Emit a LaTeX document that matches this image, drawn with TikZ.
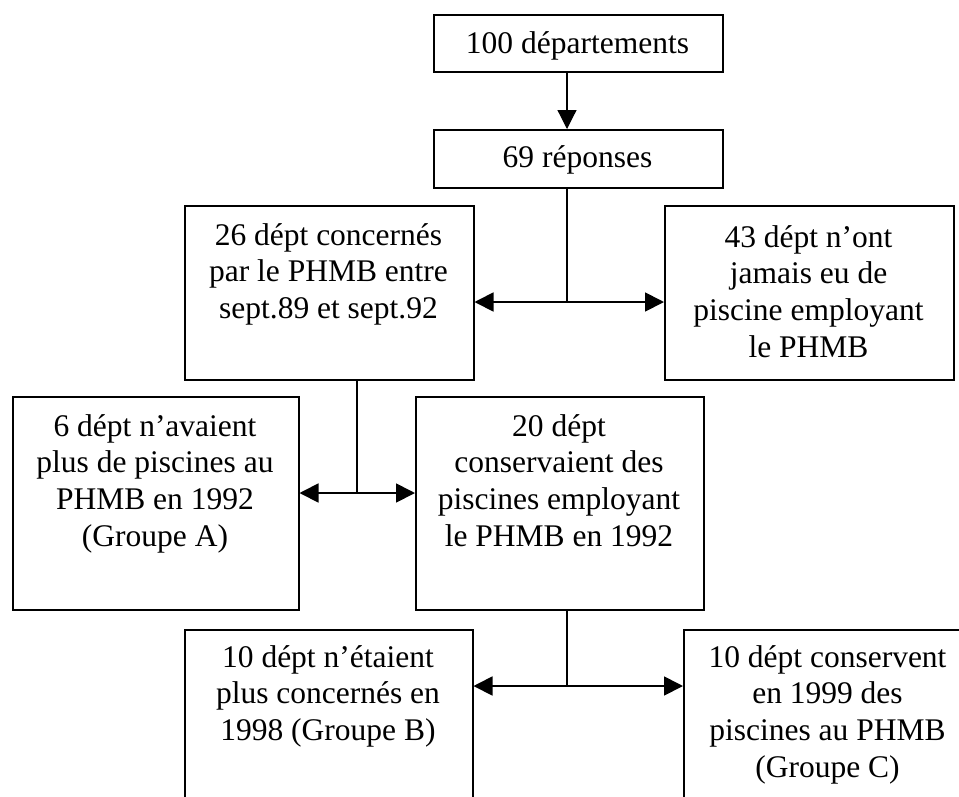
\documentclass[tikz,border=0pt]{standalone}
\usepackage{fontspec}
\setmainfont{Liberation Serif}
\usetikzlibrary{arrows.meta}
\newcommand\bt[2]{\vtop{\hsize=#1\parindent=0pt\centering\fontsize{31.5}{36.7}\selectfont #2\par}}
\tikzset{
  flowbox/.style={draw, line width=1.5pt, inner sep=0pt, anchor=north west},
  lbl/.style={inner sep=0pt, anchor=base},
  vline/.style={line width=1.2pt},
  darrow/.style={line width=1.8pt, {Triangle[length=19pt,width=19pt]}-{Triangle[length=19pt,width=19pt]}},
  sarrow/.style={line width=1.2pt, -{Triangle[length=19pt,width=19pt]}},
}
\begin{document}
\begin{tikzpicture}[x=1pt,y=-1pt]
\useasboundingbox (0,0) rectangle (959,796);
\clip (0,0) rectangle (959,796);
\fill[white] (0,0) rectangle (959,796);
% boxes
\node[flowbox, minimum width=289pt, minimum height=57pt] (b1) at (433,14) {};
\node[flowbox, minimum width=289pt, minimum height=58pt] (b2) at (433,129) {};
\node[flowbox, minimum width=289pt, minimum height=174pt] (b3) at (184,205) {};
\node[flowbox, minimum width=289pt, minimum height=174pt] (b4) at (664,205) {};
\node[flowbox, minimum width=286pt, minimum height=213pt] (b5) at (12,396) {};
\node[flowbox, minimum width=288pt, minimum height=213pt] (b6) at (415,396) {};
\node[flowbox, minimum width=288pt, minimum height=180pt] (b7) at (184,629) {};
\node[flowbox, minimum width=289pt, minimum height=180pt] (b8) at (683,629) {};
% texts
\node[lbl] (t1) at (577.5,53) {\bt{289pt}{100 départements}};
\node[lbl] (t2) at (577.5,167) {\bt{289pt}{69 réponses}};
\node[lbl] (t3) at (328.5,245) {\bt{289pt}{26 dépt concernés\\par le PHMB entre\\sept.89 et sept.92}};
\node[lbl] (t4) at (808.5,247) {\bt{289pt}{43 dépt n’ont\\jamais eu de\\piscine employant\\le PHMB}};
\node[lbl] (t5) at (155,436) {\bt{286pt}{6 dépt n’avaient\\plus de piscines au\\PHMB en 1992\\(Groupe A)}};
\node[lbl] (t6) at (559,436) {\bt{288pt}{20 dépt\\conservaient des\\piscines employant\\le PHMB en 1992}};
\node[lbl] (t7) at (328,667) {\bt{288pt}{10 dépt n’étaient\\plus concernés en\\1998 (Groupe B)}};
\node[lbl] (t8) at (827.5,667) {\bt{289pt}{10 dépt conservent\\en 1999 des\\piscines au PHMB\\(Groupe C)}};
% junctions
\coordinate (j0) at (567,0);
\coordinate (j1) at (567,302);
\coordinate (j2) at (357,493);
\coordinate (j3) at (567,686);
% connectors
\draw[sarrow] (b1.south -| j0) -- (b2.north -| j0);
\draw[vline] (b2.south -| j1) -- (j1);
\draw[darrow] (b3.east |- j1) -- (b4.west |- j1);
\draw[vline] (b3.south -| j2) -- (j2);
\draw[darrow] (b5.east |- j2) -- (b6.west |- j2);
\draw[vline] (b6.south -| j3) -- (j3);
\draw[darrow] (b7.east |- j3) -- (b8.west |- j3);
\end{tikzpicture}
\end{document}
